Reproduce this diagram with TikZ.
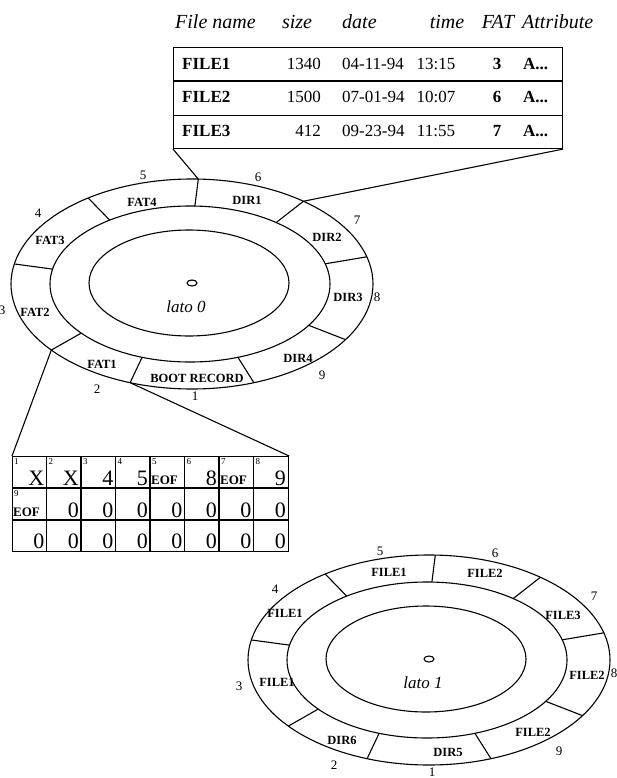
\documentclass[tikz,border=0pt]{standalone}
\usepackage{fontspec}
\setmainfont{Liberation Serif}
\usetikzlibrary{calc}
\tikzset{
  ln/.style={line width=1.1pt, black},
  hdr/.style={font=\fontsize{20}{23}\selectfont\itshape, inner sep=0pt},
  tabb/.style={font=\fontsize{17}{20}\selectfont\bfseries, inner sep=0pt},
  tabn/.style={font=\fontsize{17}{20}\selectfont, inner sep=0pt},
  seclab/.style={font=\fontsize{12.5}{14}\selectfont\bfseries, inner sep=0pt},
  numlab/.style={font=\fontsize{13}{15}\selectfont, inner sep=0pt},
  latolab/.style={font=\fontsize{17}{20}\selectfont\itshape, inner sep=0pt},
  bigval/.style={font=\fontsize{22}{24}\selectfont, inner sep=0pt, anchor=south east},
  idxlab/.style={font=\fontsize{9}{10}\selectfont, inner sep=0pt, anchor=north west},
  eoflab/.style={font=\fontsize{13}{14}\selectfont\bfseries, inner sep=0pt, anchor=south west},
}
\newcommand{\drawdisk}[2]{%
\begin{scope}[shift={#2}]
 \draw[ln] (0,0) ellipse [x radius=181, y radius=105];
 \draw[ln] (-2,0) ellipse [x radius=140, y radius=78];
 \draw[ln] (-3,-1) ellipse [x radius=100, y radius=53];
 \draw[ln] (0,-1) ellipse [x radius=5, y radius=3];
 \foreach \a [count=\i] in {88,125,169,219,250,290,328,15,52} {
   \coordinate (#1o\i) at ({181*cos(\a)},{-105*sin(\a)});
   \coordinate (#1m\i) at ({-2+140*cos(\a)},{-78*sin(\a)});
   \draw[ln] (#1m\i) -- (#1o\i);
 }
 \foreach \n/\p in {5/{(-49,-109)},6/{(66,-107)},7/{(165,-64)},8/{(185,13)},9/{(130,91)},1/{(3,112)},2/{(-95,105)},3/{(-190,26)},4/{(-154,-71)}}
   \node[numlab] (#1n\n) at \p {\n};
\end{scope}}
\begin{document}
\begin{tikzpicture}[x=1pt,y=-1pt]
\useasboundingbox[fill=white] (0,0) rectangle (616,778);

% ---------- directory table ----------
\node[hdr, anchor=base west] (hname) at (175,29) {File name};
\node[hdr, anchor=base] (hsize) at (297,29) {size};
\node[hdr, anchor=base west] (hdate) at (342,29) {date};
\node[hdr, anchor=base] (htime) at (447,29) {time};
\node[hdr, anchor=base] (hfat) at (498,29) {FAT};
\node[hdr, anchor=base west] (hattr) at (522,29) {Attribute};

\node[draw, ln, minimum width=389pt, minimum height=101pt, anchor=north west, inner sep=0pt] (dirtab) at (173,47) {};
\draw[ln] ($(dirtab.north west)!1/3!(dirtab.south west)$) -- ($(dirtab.north east)!1/3!(dirtab.south east)$);
\draw[ln] ($(dirtab.north west)!2/3!(dirtab.south west)$) -- ($(dirtab.north east)!2/3!(dirtab.south east)$);

\foreach \r/\yb/\fn/\sz/\dt/\tm/\ft in {1/69.5/FILE1/1340/04-11-94/13:15/3, 2/103/FILE2/1500/07-01-94/10:07/6, 3/137/FILE3/412/09-23-94/11:55/7}{
  \node[tabb, anchor=base west] (fn\r) at (182,\yb) {\fn};
  \node[tabn, anchor=base east] (sz\r) at (321,\yb) {\sz};
  \node[tabn, anchor=base west] (dt\r) at (342,\yb) {\dt};
  \node[tabn, anchor=base] (tm\r) at (436,\yb) {\tm};
  \node[tabb, anchor=base] (ft\r) at (497,\yb) {\ft};
  \node[tabb, anchor=base west] (at\r) at (523,\yb) {A...};
}

% ---------- disk side 0 ----------
\drawdisk{da}{(192,284)}
\node[latolab] (lato0) at (186,307) {lato 0};
\node[seclab] (sa5) at (142,202) {FAT4};
\node[seclab] (sa6) at (247,200) {DIR1};
\node[seclab] (sa7) at (327,237) {DIR2};
\node[seclab] (sa8) at (348,297) {DIR3};
\node[seclab] (sa9) at (298,358) {DIR4};
\node[seclab] (sa1) at (197,378) {BOOT RECORD};
\node[seclab] (sa2) at (102,364) {FAT1};
\node[seclab] (sa3) at (35,312) {FAT2};
\node[seclab] (sa4) at (50,240) {FAT3};

\draw[ln] (dirtab.south west) -- (dao1);
\draw[ln] (dirtab.south east) -- (dao9);

% ---------- FAT table ----------
\node[draw, ln, minimum width=276pt, minimum height=95pt, anchor=north west, inner sep=0pt] (fat) at (12,456) {};
\foreach \i in {1,...,7} \draw[ln] ({12+34.5*\i},456) -- ({12+34.5*\i},551);
\draw[ln] (12,488) -- (288,488);
\draw[ln] (12,520) -- (288,520);
\foreach \c in {1,...,8} \node[idxlab] (ix\c) at ({12+34.5*(\c-1)+2},458) {\c};
\node[idxlab] (ix9) at (14,490) {9};
\foreach \c/\v in {1/X,2/X,3/4,4/5,6/8,8/9} \node[bigval] (va\c) at ({12+34.5*\c-2},486) {\v};
\node[eoflab] (eof5) at ({12+34.5*4+1},485) {EOF};
\node[eoflab] (eof7) at ({12+34.5*6+1},485) {EOF};
\node[eoflab] (eof9) at (13,517) {EOF};
\foreach \c in {2,...,8} \node[bigval] (vb\c) at ({12+34.5*\c-2},518) {0};
\foreach \c in {1,...,8} \node[bigval] (vc\c) at ({12+34.5*\c-2},549) {0};

\draw[ln] (fat.north west) -- (dao4);
\draw[ln] (fat.north east) -- (dao5);

% ---------- disk side 1 ----------
\drawdisk{db}{(429,660)}
\node[latolab] (lato1) at (423,683) {lato 1};
\node[seclab] (sb5) at (389,572) {FILE1};
\node[seclab] (sb6) at (485,573) {FILE2};
\node[seclab] (sb7) at (563,615) {FILE3};
\node[seclab] (sb8) at (587,675) {FILE2};
\node[seclab] (sb9) at (533,732) {FILE2};
\node[seclab] (sb1) at (448,752) {DIR5};
\node[seclab] (sb2) at (342,740) {DIR6};
\node[seclab] (sb3) at (277,682) {FILE1};
\node[seclab] (sb4) at (285,613) {FILE1};
\end{tikzpicture}
\end{document}
